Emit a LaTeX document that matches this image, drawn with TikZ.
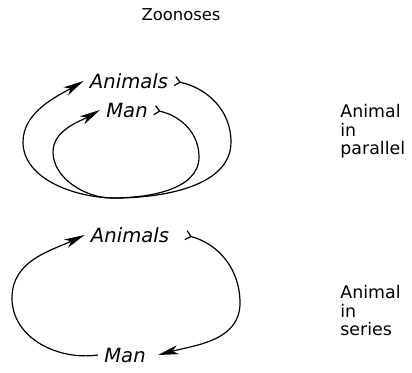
\documentclass[tikz,border=0pt]{standalone}
\usepackage{fontspec}
\setmainfont{DejaVu Sans}
\usetikzlibrary{arrows.meta}

\begin{document}
\begin{tikzpicture}[x=0.5pt,y=0.5pt,
  every node/.style={font=\fontsize{8.2}{10}\selectfont},
  host/.style={font=\fontsize{9.8}{11}\selectfont\itshape,inner sep=3pt},
  side/.style={align=left,anchor=north west,inner sep=0pt,font=\fontsize{8.7}{9.2}\selectfont},
  cyc/.style={line width=0.6pt,{Straight Barb[reversed,length=0.9mm,width=1.6mm]}-{Stealth[length=3.6mm,width=1.6mm,inset=1mm]}},
  run/.style={line width=0.6pt,-{Stealth[length=3.6mm,width=1.6mm,inset=1mm]}}]
\useasboundingbox (0,0) rectangle (412,-372);
\node (title) at (181,-15) {Zoonoses};

% animal in parallel
\node[host] (aniP) at (129,-81) {Animals};
\node[host] (manP) at (127,-110) {Man};
\draw[cyc] (aniP.east) to[out=-12,in=90] (231,-142) to[out=-90,in=0,looseness=0.9] (115,-198)
  to[out=180,in=-90,looseness=0.9] (23,-142) to[out=90,in=210,looseness=0.9] (aniP.west);
\draw[cyc] (manP.east) to[out=-12,in=90] (199,-157) to[out=-90,in=0,looseness=0.9] (112,-198)
  to[out=180,in=-90,looseness=0.9] (53,-152) to[out=90,in=210,looseness=0.9] (manP.west);
\node[side] (parT) at (340,-104) {Animal\\in\\parallel};

% animal in series
\node[host] (aniS) at (130,-235) {Animals};
\node[host] (manS) at (125,-355) {Man};
\draw[cyc] ([xshift=5pt]aniS.east) to[out=-15,in=90] (240,-303) to[out=-90,in=15] ([xshift=3pt]manS.east);
\draw[run] (manS.west) to[out=188,in=-90] (12,-298) to[out=90,in=205] (aniS.west);
\node[side] (serT) at (340,-285) {Animal\\in\\series};
\end{tikzpicture}
\end{document}
